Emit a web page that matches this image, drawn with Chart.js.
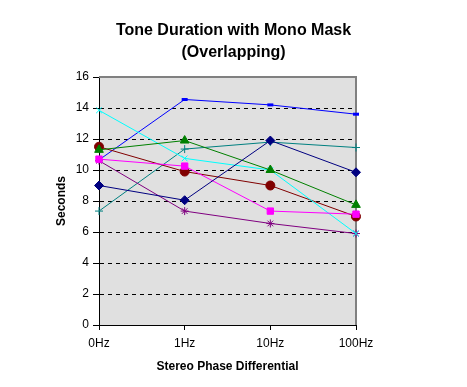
<!DOCTYPE html>
<html>
<head>
<meta charset="utf-8">
<script src="https://cdn.jsdelivr.net/npm/chart.js@4"></script>
<style>
html,body{margin:0;padding:0;background:#fff;}
#wrap{width:467px;height:387px;position:relative;}
</style>
</head>
<body>
<div id="wrap"><canvas id="c" width="467" height="387"></canvas></div>
<script>
const categories = ['0Hz', '1Hz', '10Hz', '100Hz'];
const seriesNavy    = [9.0, 8.05, 11.9, 9.85];
const seriesMagenta = [10.7, 10.25, 7.35, 7.15];
const seriesGreen   = [11.3, 11.9, 10.0, 7.75];
const seriesCyan    = [13.85, 10.75, 10.0, 5.9];
const seriesPurple  = [10.6, 7.35, 6.55, 5.9];
const seriesBrown   = [11.5, 9.9, 9.0, 7.0];
const seriesTeal    = [7.35, 11.35, 11.8, 11.45];
const seriesBlue    = [10.65, 14.55, 14.2, 13.6];
const yTicks = [0, 2, 4, 6, 8, 10, 12, 14, 16];
const titleLines = ['Tone Duration with Mono Mask', '(Overlapping)'];
const xTitle = 'Stereo Phase Differential';
const yTitle = 'Seconds';

const FONT = "'Liberation Sans', Arial, sans-serif";

function ds(data, color, style, radius, extra) {
  return Object.assign({
    data: data,
    borderColor: color,
    backgroundColor: color,
    pointBorderColor: color,
    pointBackgroundColor: color,
    borderWidth: 1,
    pointStyle: style,
    pointRadius: radius,
    pointHoverRadius: radius,
    pointBorderWidth: 1,
    tension: 0,
    fill: false
  }, extra || {});
}

const plotBg = {
  id: 'plotBg',
  beforeDraw(chart) {
    const a = chart.chartArea, ctx = chart.ctx;
    ctx.save();
    ctx.fillStyle = '#e0e0e0';
    ctx.fillRect(a.left, a.top, a.right - a.left, a.bottom - a.top);
    ctx.restore();
  },
  beforeDatasetsDraw(chart) {
    const a = chart.chartArea, ctx = chart.ctx;
    ctx.save();
    ctx.strokeStyle = '#808080';
    ctx.lineWidth = 2;
    ctx.beginPath();
    ctx.moveTo(a.left, a.top);
    ctx.lineTo(a.right, a.top);
    ctx.lineTo(a.right, a.bottom);
    ctx.stroke();
    ctx.restore();
  }
};

new Chart(document.getElementById('c'), {
  type: 'line',
  data: {
    labels: categories,
    datasets: [
      ds(seriesNavy, '#000080', 'rectRot', 4.5),
      ds(seriesMagenta, '#ff00ff', 'rect', 4.5),
      ds(seriesGreen, '#008000', 'triangle', 5),
      ds(seriesCyan, '#00ffff', 'crossRot', 4),
      ds(seriesPurple, '#800080', 'star', 4),
      ds(seriesBrown, '#800000', 'circle', 4.5),
      ds(seriesTeal, '#008080', 'cross', 4),
      ds(seriesBlue, '#0000ff', 'line', 3, {pointBorderWidth: 3})
    ]
  },
  options: {
    responsive: false,
    animation: false,
    devicePixelRatio: 1,
    layout: {padding: 0},
    plugins: {
      legend: {display: false},
      tooltip: {enabled: false},
      title: {
        display: true,
        text: titleLines,
        color: '#000',
        font: {family: FONT, size: 16, weight: 'bold', lineHeight: 1.4},
        padding: {top: 19, bottom: 13.2}
      }
    },
    scales: {
      x: {
        type: 'category',
        offset: false,
        afterFit(s) { s.height = 62; },
        grid: {display: true, drawOnChartArea: false, drawTicks: true, tickLength: 5, color: '#000', lineWidth: 1},
        border: {display: true, color: '#000', width: 1},
        ticks: {color: '#000', font: {family: FONT, size: 12}, padding: 6, maxRotation: 0, autoSkip: false},
        title: {display: true, text: xTitle, color: '#000', font: {family: FONT, size: 12, weight: 'bold', lineHeight: 1.2}, padding: {top: 4, bottom: 13}}
      },
      y: {
        type: 'linear',
        min: 0,
        max: 16,
        afterFit(s) { s.width = 99; },
        afterBuildTicks(s) { s.ticks = yTicks.map(v => ({value: v})); },
        grid: {
          display: true,
          drawTicks: true,
          tickLength: 6,
          color: (c) => (c.tick && (c.tick.value === 0 || c.tick.value === 16)) ? 'rgba(0,0,0,0)' : '#000',
          tickColor: '#000',
          lineWidth: 1
        },
        border: {display: true, color: '#000', width: 1, dash: [4, 4]},
        ticks: {color: '#000', font: {family: FONT, size: 12}, padding: 4},
        title: {display: true, text: yTitle, color: '#000', font: {family: FONT, size: 12, weight: 'bold', lineHeight: 1.2}, padding: {top: 54, bottom: 0}}
      },
      yR: {
        type: 'linear',
        position: 'right',
        display: true,
        min: 0,
        max: 16,
        afterFit(s) { s.width = 111; },
        grid: {display: false, drawTicks: false},
        border: {display: false},
        ticks: {display: false}
      }
    }
  },
  plugins: [plotBg]
});
</script>
</body>
</html>
